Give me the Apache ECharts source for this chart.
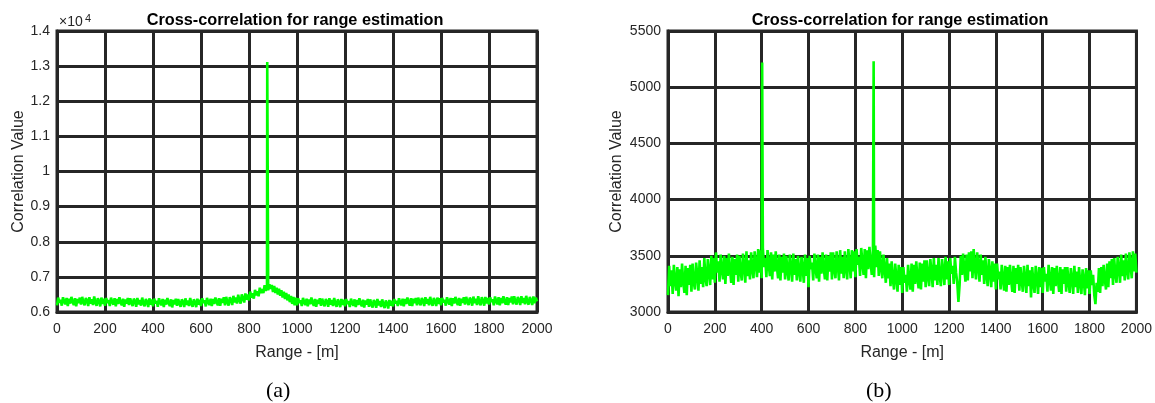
<!DOCTYPE html>
<html>
<head>
    <meta charset="utf-8">
    <title>Cross-correlation for range estimation</title>
    <script src="https://cdn.jsdelivr.net/npm/echarts/dist/echarts.min.js"></script>
    <style>
        body { margin: 0; background: #fff; }
        #mychart { width: 1155px; height: 403px; }
    </style>
</head>
<body>
<div id="mychart"></div>
<script>
    // sample spacing along range [m]
    var rangeStep = 5;

    // (a) correlation samples, every 5 m from 0 to 2000 m
    var corrA = [
        6190, 6410, 6260, 6350, 6180, 6420, 6300, 6220, 6400, 6170, 6380, 6240, 6430, 6290, 6200, 6390, 6160, 6370, 6250, 6410,
        6210, 6430, 6280, 6190, 6400, 6330, 6170, 6420, 6240, 6360, 6200, 6440, 6270, 6180, 6390, 6310, 6160, 6410, 6230, 6380,
        6180, 6400, 6260, 6340, 6170, 6410, 6290, 6210, 6390, 6160, 6370, 6230, 6420, 6280, 6190, 6380, 6150, 6360, 6240, 6400,
        6200, 6390, 6270, 6170, 6380, 6310, 6150, 6400, 6220, 6340, 6180, 6410, 6250, 6160, 6370, 6290, 6140, 6390, 6210, 6360,
        6160, 6380, 6240, 6320, 6150, 6390, 6270, 6190, 6370, 6140, 6350, 6210, 6400, 6260, 6170, 6360, 6130, 6340, 6220, 6380,
        6180, 6370, 6250, 6150, 6360, 6290, 6140, 6390, 6200, 6330, 6170, 6400, 6240, 6150, 6360, 6280, 6140, 6380, 6210, 6350,
        6170, 6390, 6260, 6330, 6160, 6400, 6280, 6200, 6380, 6170, 6370, 6230, 6410, 6290, 6190, 6390, 6180, 6380, 6260, 6420,
        6190, 6430, 6280, 6180, 6420, 6340, 6200, 6460, 6270, 6410, 6240, 6490, 6330, 6240, 6500, 6390, 6270, 6530, 6350, 6500,
        6330, 6580, 6410, 6530, 6380, 6630, 6470, 6590, 6450, 6690, 6540, 6650, 6540, 6760, 6600, 6720, 6620, 6790, 6660, 6770,
        6570, 6740, 6540, 6690, 6500, 6660, 6460, 6620, 6410, 6580, 6370, 6540, 6330, 6500, 6280, 6460, 6230, 6430, 6190, 6410,
        6190, 6390, 6260, 6330, 6170, 6400, 6280, 6200, 6380, 6160, 6360, 6220, 6410, 6270, 6180, 6370, 6150, 6350, 6230, 6390,
        6180, 6380, 6250, 6160, 6370, 6300, 6150, 6390, 6210, 6340, 6170, 6400, 6240, 6150, 6360, 6280, 6140, 6370, 6200, 6350,
        6160, 6370, 6230, 6310, 6140, 6380, 6260, 6180, 6360, 6140, 6340, 6200, 6390, 6250, 6160, 6350, 6130, 6330, 6210, 6370,
        6150, 6360, 6220, 6130, 6340, 6280, 6120, 6370, 6190, 6310, 6140, 6360, 6210, 6110, 6330, 6250, 6100, 6340, 6180, 6320,
        6160, 6370, 6240, 6320, 6170, 6390, 6270, 6190, 6380, 6160, 6370, 6230, 6410, 6280, 6180, 6390, 6170, 6380, 6250, 6400,
        6190, 6410, 6280, 6190, 6400, 6320, 6170, 6420, 6240, 6370, 6190, 6430, 6270, 6180, 6400, 6310, 6170, 6410, 6230, 6390,
        6190, 6400, 6270, 6350, 6180, 6420, 6300, 6210, 6400, 6170, 6390, 6240, 6430, 6290, 6200, 6400, 6180, 6380, 6260, 6420,
        6210, 6430, 6290, 6200, 6410, 6340, 6180, 6440, 6250, 6380, 6200, 6450, 6280, 6190, 6420, 6320, 6180, 6430, 6240, 6400,
        6210, 6420, 6290, 6360, 6190, 6440, 6310, 6220, 6420, 6190, 6400, 6250, 6450, 6300, 6210, 6420, 6200, 6400, 6270, 6440,
        6220, 6450, 6300, 6210, 6430, 6350, 6200, 6450, 6260, 6400, 6220, 6460, 6290, 6210, 6430, 6330, 6200, 6440, 6250, 6410,
        6300
    ];
    var peaksA = [[876, 13120]];

    // (b) correlation samples, every 5 m from 0 to 2000 m
    var corrB = [
        3150, 3410, 3230, 3370, 3160, 3420, 3280, 3190, 3400, 3140, 3380, 3220, 3430, 3270, 3170, 3410, 3150, 3390, 3240, 3420,
        3180, 3430, 3260, 3200, 3440, 3330, 3190, 3460, 3250, 3400, 3220, 3480, 3300, 3230, 3470, 3360, 3240, 3500, 3290, 3480,
        3260, 3530, 3350, 3450, 3270, 3510, 3380, 3290, 3500, 3250, 3480, 3320, 3520, 3370, 3260, 3490, 3240, 3470, 3330, 3510,
        3270, 3500, 3360, 3280, 3520, 3410, 3260, 3540, 3320, 3460, 3290, 3530, 3380, 3300, 3540, 3430, 3310, 3560, 3350, 3550,
        3300, 3570, 3400, 3480, 3310, 3550, 3420, 3320, 3530, 3290, 3510, 3360, 3540, 3400, 3300, 3510, 3280, 3490, 3350, 3520,
        3290, 3500, 3370, 3280, 3510, 3400, 3270, 3520, 3330, 3470, 3280, 3500, 3360, 3270, 3490, 3390, 3260, 3510, 3320, 3480,
        3220, 3500, 3380, 3440, 3280, 3520, 3390, 3300, 3510, 3270, 3490, 3340, 3530, 3390, 3290, 3510, 3280, 3500, 3360, 3530,
        3290, 3530, 3380, 3300, 3540, 3420, 3280, 3550, 3340, 3490, 3300, 3540, 3390, 3290, 3560, 3430, 3300, 3550, 3360, 3540,
        3310, 3560, 3420, 3490, 3320, 3570, 3440, 3330, 3560, 3300, 3550, 3380, 3580, 3440, 3330, 3560, 3310, 3590, 3400, 3550,
        3320, 3540, 3400, 3300, 3510, 3390, 3260, 3480, 3300, 3430, 3230, 3450, 3290, 3200, 3430, 3310, 3180, 3420, 3240, 3400,
        3170, 3400, 3260, 3330, 3180, 3420, 3290, 3200, 3430, 3180, 3420, 3250, 3450, 3300, 3210, 3440, 3200, 3430, 3270, 3460,
        3220, 3460, 3320, 3230, 3470, 3360, 3220, 3480, 3280, 3420, 3240, 3480, 3320, 3230, 3470, 3370, 3240, 3490, 3290, 3450,
        3240, 3480, 3340, 3410, 3250, 3490, 3350, 3260, 3090, 3240, 3500, 3330, 3520, 3380, 3270, 3510, 3280, 3530, 3360, 3540,
        3300, 3560, 3400, 3290, 3530, 3420, 3270, 3510, 3330, 3460, 3250, 3490, 3330, 3230, 3470, 3360, 3220, 3450, 3270, 3430,
        3200, 3430, 3290, 3360, 3200, 3420, 3300, 3190, 3410, 3180, 3400, 3240, 3420, 3290, 3180, 3410, 3170, 3390, 3250, 3420,
        3190, 3400, 3280, 3180, 3410, 3300, 3170, 3420, 3230, 3370, 3130, 3400, 3260, 3170, 3410, 3300, 3160, 3400, 3220, 3390,
        3170, 3400, 3270, 3340, 3180, 3420, 3290, 3190, 3400, 3160, 3390, 3230, 3410, 3280, 3180, 3400, 3160, 3380, 3250, 3400,
        3180, 3400, 3270, 3170, 3390, 3300, 3160, 3410, 3220, 3360, 3170, 3400, 3260, 3160, 3380, 3290, 3150, 3390, 3210, 3370,
        3160, 3370, 3240, 3330, 3150, 3070, 3260, 3180, 3390, 3170, 3400, 3230, 3420, 3290, 3200, 3430, 3220, 3450, 3300, 3470,
        3240, 3480, 3340, 3260, 3490, 3390, 3260, 3510, 3320, 3460, 3280, 3520, 3370, 3290, 3530, 3420, 3300, 3540, 3360, 3520,
        3350
    ];
    var peaksB = [[402, 5220], [878, 5230]];

    var xTicks = { min: 0, max: 2000, interval: 200 };

    function buildData(vals, peaks) {
        var pts = [];
        for (var i = 0; i < vals.length; i++) {
            pts.push([i * rangeStep, vals[i]]);
        }
        for (var j = 0; j < peaks.length; j++) {
            pts.push(peaks[j]);
        }
        pts.sort(function (a, b) { return a[0] - b[0]; });
        return pts;
    }

    var textColor = '#262626';
    var gridColor = '#262626';
    var fontName = '"Liberation Sans", Arial, sans-serif';

    function plain(v) { return String(v); }

    function xAxisOpt(idx) {
        return {
            type: 'value',
            gridIndex: idx,
            min: xTicks.min,
            max: xTicks.max,
            interval: xTicks.interval,
            name: 'Range - [m]',
            nameLocation: 'middle',
            nameGap: 33,
            nameTextStyle: { color: textColor, fontSize: 16, fontFamily: fontName },
            axisLine: { show: true, lineStyle: { color: gridColor, width: 3 } },
            axisTick: { show: false },
            axisLabel: { color: textColor, fontSize: 14, fontFamily: fontName, margin: 10, formatter: plain },
            splitLine: { show: true, lineStyle: { color: gridColor, width: 3 } }
        };
    }

    function yAxisOpt(idx, min, max, step, gap, fmt) {
        return {
            type: 'value',
            gridIndex: idx,
            min: min,
            max: max,
            interval: step,
            name: 'Correlation Value',
            nameLocation: 'middle',
            nameGap: gap,
            nameTextStyle: { color: textColor, fontSize: 16, fontFamily: fontName },
            axisLine: { show: true, lineStyle: { color: gridColor, width: 3 } },
            axisTick: { show: false },
            axisLabel: { color: textColor, fontSize: 14, fontFamily: fontName, margin: 7, formatter: fmt },
            splitLine: { show: true, lineStyle: { color: gridColor, width: 3 } }
        };
    }

    var myChart = echarts.init(document.getElementById('mychart'));
    var option = {
        animation: false,
        backgroundColor: '#fff',
        title: [
            {
                text: 'Cross-correlation for range estimation',
                left: 290, top: 8, textAlign: 'center',
                textStyle: { color: '#000', fontSize: 16.3, fontWeight: 'bold', fontFamily: fontName }
            },
            {
                text: 'Cross-correlation for range estimation',
                left: 895, top: 8, textAlign: 'center',
                textStyle: { color: '#000', fontSize: 16.3, fontWeight: 'bold', fontFamily: fontName }
            }
        ],
        grid: [
            { left: 57, top: 31, width: 480, height: 281, show: true, borderColor: gridColor, borderWidth: 3, backgroundColor: '#fff' },
            { left: 668, top: 31, width: 469, height: 281, show: true, borderColor: gridColor, borderWidth: 3, backgroundColor: '#fff' }
        ],
        xAxis: [xAxisOpt(0), xAxisOpt(1)],
        yAxis: [
            yAxisOpt(0, 6000, 14000, 1000, 30, function (v) { return String(Math.round(v / 1000) / 10); }),
            yAxisOpt(1, 3000, 5500, 500, 43, plain)
        ],
        graphic: [
            { type: 'text', left: 59, top: 15, style: { text: '×10', fill: textColor, font: '14px ' + fontName } },
            { type: 'text', left: 85, top: 13, style: { text: '4', fill: textColor, font: '11px ' + fontName } },
            { type: 'text', left: 266, top: 380, style: { text: '(a)', fill: '#000', font: '22px "Liberation Serif", "Times New Roman", serif' } },
            { type: 'text', left: 866, top: 380, style: { text: '(b)', fill: '#000', font: '22px "Liberation Serif", "Times New Roman", serif' } }
        ],
        series: [
            {
                type: 'line', xAxisIndex: 0, yAxisIndex: 0,
                data: buildData(corrA, peaksA),
                showSymbol: false, symbol: 'none',
                lineStyle: { color: '#00ff00', width: 2.6 },
                z: 5
            },
            {
                type: 'line', xAxisIndex: 1, yAxisIndex: 1,
                data: buildData(corrB, peaksB),
                showSymbol: false, symbol: 'none',
                lineStyle: { color: '#00ff00', width: 2.6 },
                z: 5
            }
        ]
    };
    myChart.setOption(option);
</script>
</body>
</html>
